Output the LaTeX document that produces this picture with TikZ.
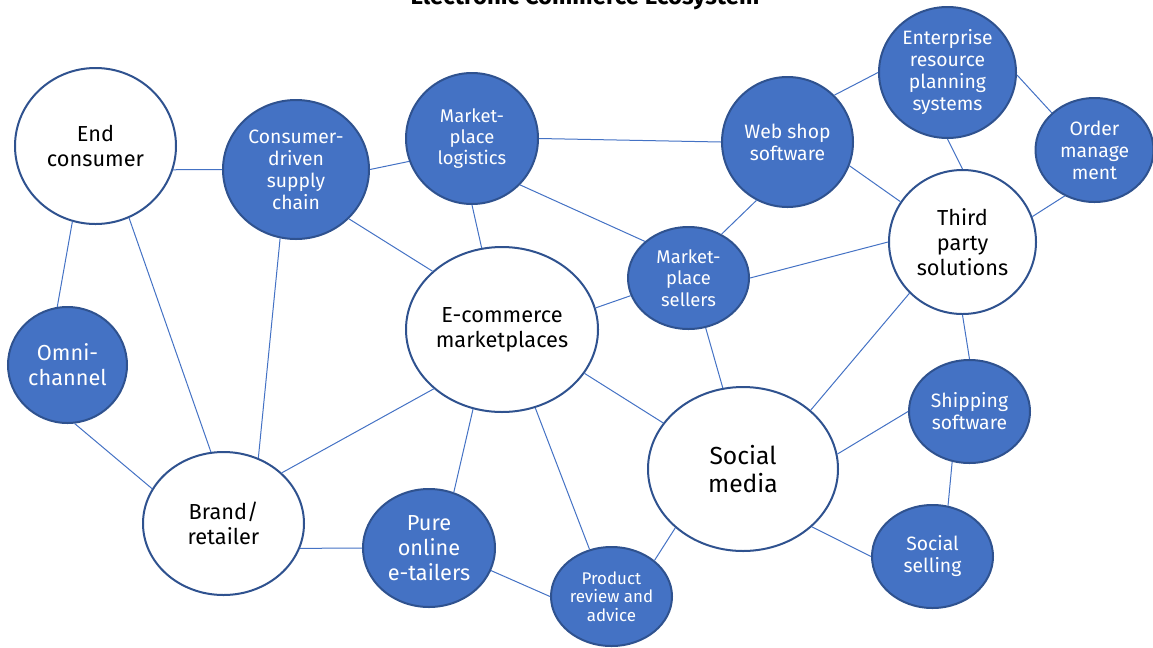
\documentclass[tikz,border=0pt]{standalone}
\usepackage{fontspec}
\setmainfont{Fira Sans}
\usetikzlibrary{shapes.geometric}
\definecolor{officeblue}{HTML}{4472C4}
\definecolor{rimblue}{HTML}{2F528F}

\begin{document}
\begin{tikzpicture}[x=0.75pt,y=-0.75pt,
  bubble/.style 2 args={ellipse, draw=rimblue, line width=1.5pt, inner sep=0pt, align=center,
    minimum width=0.75pt*#1, minimum height=0.75pt*#2},
  hub/.style 2 args={bubble={#1}{#2}, fill=white, text=black, font=\fontsize{16.3}{19}\selectfont},
  spoke/.style 2 args={bubble={#1}{#2}, fill=officeblue, text=white, font=\fontsize{14.5}{16.5}\selectfont},
  link/.style={draw=officeblue, line width=0.75pt}]
\useasboundingbox (0,0) rectangle (1153,647);
\node[anchor=base, font=\bfseries\fontsize{18}{22}\selectfont] (title) at (585,4.5) {Electronic Commerce Ecosystem};

\node[hub={161}{156}] (ec) at (95.5,146) {End\\consumer};
\node[spoke={146}{139}] (cds) at (296,169.5) {Consumer-\\driven\\supply\\chain};
\node[spoke={132}{131}, font=\fontsize{13.8}{15.8}\selectfont] (mpl) at (472,138.5) {Market-\\place\\logistics};
\node[hub={192}{165}] (ecm) at (502,329.5) {E-commerce\\marketplaces};
\node[spoke={121}{102}, font=\fontsize{13.8}{16}\selectfont] (mps) at (688.5,278) {Market-\\place\\sellers};
\node[spoke={131}{130}] (ws) at (787.5,142) {Web shop\\software};
\node[spoke={137}{131}] (erp) at (947.5,72.5) {Enterprise\\resource\\planning\\systems};
\node[spoke={118}{104}] (om) at (1094.5,150) {Order\\manage\\ment};
\node[hub={147}{144}] (tps) at (962.5,242) {Third\\party\\solutions};
\node[spoke={119}{116}, font=\fontsize{16.3}{18.8}\selectfont] (omni) at (67.5,365) {Omni-\\channel};
\node[hub={161}{143}] (brand) at (223.5,523.5) {Brand/\\retailer};
\node[spoke={132}{118}, font=\fontsize{16.3}{18.8}\selectfont] (pure) at (429,548) {Pure\\online\\e-tailers};
\node[spoke={121}{99}, font=\fontsize{12.7}{13.9}\selectfont] (prod) at (611.5,596.5) {Product\\review and\\advice};
\node[hub={190}{164}, font=\fontsize{18.5}{21}\selectfont] (sm) at (743,469) {Social\\media};
\node[spoke={121}{103}] (ship) at (969.5,411.5) {Shipping\\software};
\node[spoke={121}{103}] (ss) at (932.5,556.5) {Social\\selling};

\draw[link] (ec.-17) -- (cds.west);
\draw[link] (ec.-107) -- (omni.100);
\draw[link] (ec.-65) -- (brand.100);
\draw[link] (cds.-103) -- (brand.62);
\draw[link] (cds.east) -- (mpl.200);
\draw[link] (cds.-43) -- (ecm.140);
\draw[link] (mpl.east) -- (ws.west);
\draw[link] (mpl.south) -- (ecm.104);
\draw[link] (mpl.-44) -- (mps.140);
\draw[link] (mps.53) -- (ws.-118);
\draw[link] (mps.197) -- (ecm.13);
\draw[link] (mps.east) -- (tps.west);
\draw[link] (mps.-71) -- (sm.104);
\draw[link] (ws.45) -- (erp.west);
\draw[link] (ws.-21) -- (tps.147);
\draw[link] (erp.-2) -- (om.139);
\draw[link] (erp.south) -- (tps.north);
\draw[link] (om.237) -- (tps.20);
\draw[link] (tps.224) -- (sm.41);
\draw[link] (tps.south) -- (ship.north);
\draw[link] (ship.west) -- (sm.9);
\draw[link] (ship.-109) -- (ss.73);
\draw[link] (sm.-40) -- (ss.west);
\draw[link] (sm.221) -- (prod.40);
\draw[link] (ecm.-28) -- (sm.150);
\draw[link] (ecm.221) -- (brand.41);
\draw[link] (ecm.-110) -- (pure.66);
\draw[link] (ecm.-67) -- (prod.115);
\draw[link] (pure.-20) -- (prod.west);
\draw[link] (brand.-18) -- (pure.west);
\draw[link] (omni.-83) -- (brand.154);
\end{tikzpicture}
\end{document}
